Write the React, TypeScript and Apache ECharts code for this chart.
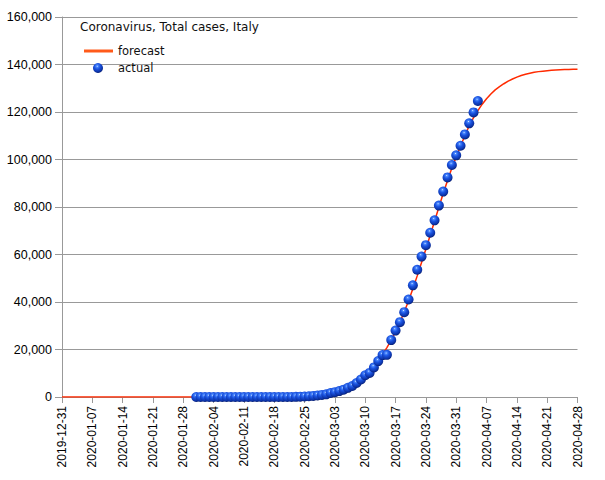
import React, { useEffect, useRef } from "react";
import * as echarts from "echarts";

const xStart = "2019-12-31";
const xEnd = "2020-04-28";
const yTicks = [0, 20000, 40000, 60000, 80000, 100000, 120000, 140000, 160000];

const actualStart = "2020-01-31";
const actualValues = [
  2, 2, 2, 2, 2, 2, 2, 3, 3, 3, 3, 3, 3, 3, 3, 3, 3, 3, 3, 3, 3, 3, 20, 62, 155, 229, 322, 453, 655, 888,
  1128, 1694, 2036, 2502, 3089, 3858, 4636, 5883, 7375, 9172, 10149, 12462, 15113, 17660, 17750, 23980,
  27980, 31506, 35713, 41035, 47021, 53578, 59138, 63927, 69176, 74386, 80589, 86498, 92472, 97689,
  101739, 105792, 110574, 115242, 119827, 124632,
];

const forecastDates = [
  "2019-12-31",
  "2020-02-15", "2020-02-16", "2020-02-17", "2020-02-18", "2020-02-19", "2020-02-20", "2020-02-21",
  "2020-02-22", "2020-02-23", "2020-02-24", "2020-02-25", "2020-02-26", "2020-02-27", "2020-02-28",
  "2020-02-29", "2020-03-01", "2020-03-02", "2020-03-03", "2020-03-04", "2020-03-05", "2020-03-06",
  "2020-03-07", "2020-03-08", "2020-03-09", "2020-03-10", "2020-03-11", "2020-03-12", "2020-03-13",
  "2020-03-14", "2020-03-15", "2020-03-16", "2020-03-17", "2020-03-18", "2020-03-19", "2020-03-20",
  "2020-03-21", "2020-03-22", "2020-03-23", "2020-03-24", "2020-03-25", "2020-03-26", "2020-03-27",
  "2020-03-28", "2020-03-29", "2020-03-30", "2020-03-31", "2020-04-01", "2020-04-02", "2020-04-03",
  "2020-04-04", "2020-04-05", "2020-04-06", "2020-04-07", "2020-04-08", "2020-04-09", "2020-04-10",
  "2020-04-11", "2020-04-12", "2020-04-13", "2020-04-14", "2020-04-15", "2020-04-16", "2020-04-17",
  "2020-04-18", "2020-04-19", "2020-04-20", "2020-04-21", "2020-04-22", "2020-04-23", "2020-04-24",
  "2020-04-25", "2020-04-26", "2020-04-27", "2020-04-28",
];
const forecastValues = [
  0,
  0, 10, 20, 30, 50, 80, 120,
  170, 240, 330, 440, 580, 750, 960,
  1220, 1540, 1930, 2400, 2970, 3650, 4450,
  5400, 6500, 7800, 9300, 11000, 13000, 15300,
  17900, 20800, 24000, 27600, 31500, 35800, 40500,
  45600, 51000, 56600, 62300, 68100, 74000, 79900,
  85700, 91200, 96400, 101100, 105700, 110000, 114200,
  117600, 120600, 123300, 125600, 127600, 129300, 130700,
  131900, 133000, 133900, 134700, 135400, 135900, 136300,
  136700, 137000, 137200, 137400, 137550, 137700, 137800,
  137850, 137900, 137950, 138000,
];

const DAY = 86400000;
const base = Date.UTC(2019, 11, 31);
const dayOf = (s: string) => {
  const [y, m, d] = s.split("-").map(Number);
  return Math.round((Date.UTC(y, m - 1, d) - base) / DAY);
};
const dateOf = (n: number) => new Date(base + n * DAY).toISOString().slice(0, 10);

export default function App() {
  const ref = useRef<HTMLDivElement>(null);
  useEffect(() => {
    if (!ref.current) return;
    const chart = echarts.init(ref.current, null, { renderer: "svg" });
    const startDay = dayOf(actualStart);
    const actualData = actualValues.map((v, i) => [startDay + i, v]);
    const forecastData = forecastDates.map((d, i) => [dayOf(d), forecastValues[i]]);
    const sphere = new echarts.graphic.RadialGradient(0.42, 0.32, 0.7, [
      { offset: 0, color: "#e6f0ff" },
      { offset: 0.12, color: "#4f8cff" },
      { offset: 0.4, color: "#1c55e2" },
      { offset: 0.8, color: "#0c33a8" },
      { offset: 1, color: "#051a6a" },
    ]);
    const font = "'Liberation Sans', Arial, sans-serif";
    chart.setOption({
      animation: false,
      textStyle: { fontFamily: font },
      title: {
        text: "Coronavirus, Total cases, Italy",
        left: 80,
        top: 21,
        padding: 0,
        textStyle: { fontFamily: "'DejaVu Sans', sans-serif", fontSize: 12, fontWeight: "normal", color: "#111" },
      },
      legend: [
        {
          data: ["forecast"],
          left: 84,
          top: 45,
          padding: 0,
          icon: "rect",
          itemWidth: 29,
          itemHeight: 3,
          itemGap: 0,
          textStyle: { fontFamily: "'DejaVu Sans', sans-serif", fontSize: 11.5, color: "#111" },
        },
        {
          data: ["actual"],
          left: 93,
          top: 62,
          padding: 0,
          icon: "circle",
          itemWidth: 10,
          itemHeight: 10,
          textStyle: {
            fontFamily: "'DejaVu Sans', sans-serif",
            fontSize: 11.5,
            color: "#111",
            padding: [0, 0, 0, 10],
          },
        },
      ],
      grid: { left: 62, right: 605 - 577.5, top: 17, bottom: 83, containLabel: false },
      xAxis: {
        type: "value",
        min: dayOf(xStart),
        max: dayOf(xEnd),
        interval: 7,
        axisLine: { show: true, lineStyle: { color: "#999", width: 1 } },
        axisTick: { show: true, length: 6, lineStyle: { color: "#999" } },
        splitLine: { show: false },
        axisLabel: {
          rotate: 90,
          margin: 9,
          fontSize: 12,
          color: "#000",
          fontFamily: font,
          formatter: (v: number) => dateOf(v),
        },
      },
      yAxis: {
        type: "value",
        min: yTicks[0],
        max: yTicks[yTicks.length - 1],
        interval: yTicks[1] - yTicks[0],
        axisLine: { show: true, lineStyle: { color: "#999", width: 1 } },
        axisTick: { show: true, length: 7, lineStyle: { color: "#999" } },
        splitLine: { show: true, lineStyle: { color: "#999", width: 1 } },
        axisLabel: {
          margin: 10,
          fontSize: 12.5,
          color: "#000",
          fontFamily: font,
          formatter: (v: number) => v.toLocaleString("en-US"),
        },
      },
      series: [
        {
          name: "forecast",
          type: "line",
          data: forecastData,
          showSymbol: false,
          symbol: "none",
          smooth: false,
          lineStyle: { color: "#ff2a00", width: 1.5 },
          itemStyle: { color: "#ff5a1a" },
          z: 2,
        },
        {
          name: "actual",
          type: "scatter",
          data: actualData,
          symbol: "circle",
          symbolSize: 10,
          itemStyle: { color: sphere, borderWidth: 0, opacity: 1 },
          z: 3,
        },
      ],
    });
    return () => chart.dispose();
  }, []);
  return <div ref={ref} style={{ width: 605, height: 480, position: "absolute", left: 0, top: 0 }} />;
}
